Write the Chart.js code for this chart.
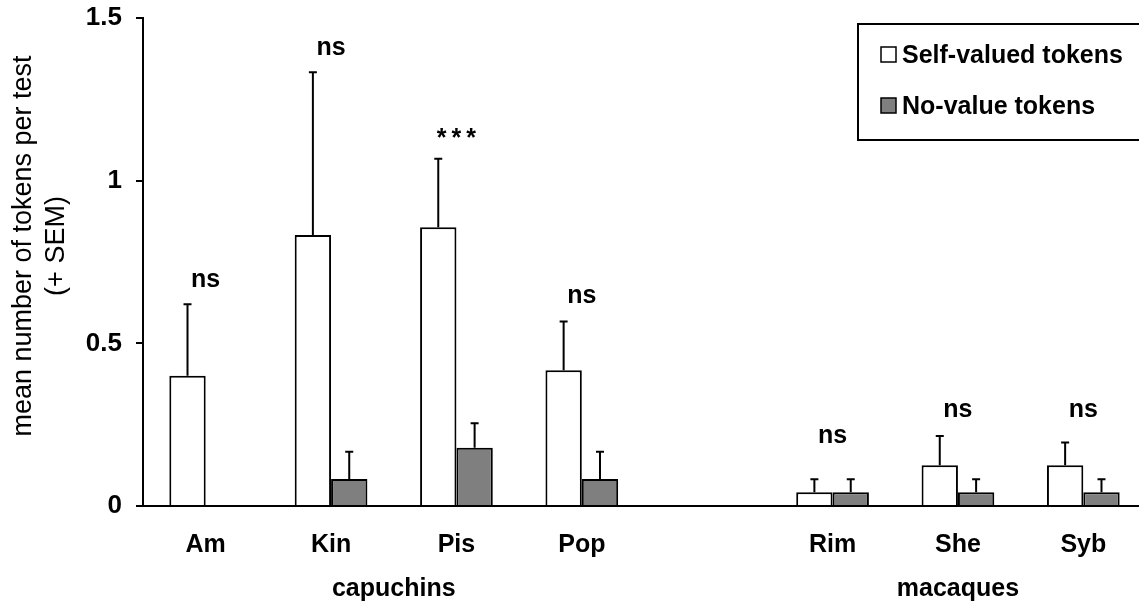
<!DOCTYPE html>
<html><head><meta charset="utf-8">
<script src="https://cdn.jsdelivr.net/npm/chart.js@4.4.0/dist/chart.umd.min.js"></script>
<style>html,body{margin:0;padding:0;background:#fff;overflow:hidden;width:1139px;height:603px;}#wrap{position:absolute;left:0;top:0;width:1170px;height:603px;}</style>
</head><body><div id="wrap"><canvas id="c" width="1170" height="603"></canvas></div>
<script>
const categories = ['Am','Kin','Pis','Pop','','Rim','She','Syb'];
const selfValued = [0.40,0.833,0.857,0.417,null,0.042,0.125,0.125];
const selfSEM = [0.22,0.50,0.21,0.15,null,0.04,0.09,0.07];
const noValue = [0,0.083,0.179,0.083,null,0.042,0.042,0.042];
const noValueSEM = [0,0.084,0.075,0.084,null,0.04,0.04,0.04];
const sigLabels = ['ns','ns','***','ns','','ns','ns','ns'];
const sigLevels = [0.673,1.386,1.107,0.624,null,0.194,0.274,0.274];
const yTickLabels = ['0','0.5','1','1.5'];
const groupLabels = ['capuchins','macaques'];
const groupFrom = [1,6];
const groupTo = [2,6];
const yTitle = ['mean number of tokens per test','(+ SEM)'];
const seriesNames = ['Self-valued tokens','No-value tokens'];

const FONT = "'Liberation Sans', Arial, sans-serif";
const GRAY = '#7f7f7f';

const errorBars = {
  id:'errorBars',
  afterDatasetsDraw(chart){
    const ctx = chart.ctx, y = chart.scales.y;
    [selfSEM, noValueSEM].forEach((errs, di) => {
      const meta = chart.getDatasetMeta(di);
      const vals = chart.data.datasets[di].data;
      meta.data.forEach((el, j) => {
        if (vals[j] == null || !errs[j]) return;
        const y0 = y.getPixelForValue(vals[j]);
        const y1 = y.getPixelForValue(vals[j] + errs[j]);
        ctx.save();
        ctx.strokeStyle = '#000'; ctx.lineWidth = 2;
        ctx.beginPath();
        ctx.moveTo(el.x, y0); ctx.lineTo(el.x, y1);
        ctx.moveTo(el.x - 4, y1); ctx.lineTo(el.x + 4, y1);
        ctx.stroke();
        ctx.restore();
      });
    });
  }
};

const decorations = {
  id:'decorations',
  afterDraw(chart){
    const ctx = chart.ctx, x = chart.scales.x, y = chart.scales.y;
    ctx.save();
    ctx.fillStyle = '#000';
    ctx.font = 'bold 25px ' + FONT;
    ctx.textBaseline = 'alphabetic';
    sigLabels.forEach((t, i) => {
      if (!t || sigLevels[i] == null) return;
      const cx = x.getPixelForValue(i);
      const cy = y.getPixelForValue(sigLevels[i]);
      if (t === '***') {
        try { ctx.letterSpacing = '5px'; } catch(e) {}
        const w = ctx.measureText(t).width;
        ctx.textAlign = 'left';
        ctx.fillText(t, cx - (w - 5) / 2, cy);
        try { ctx.letterSpacing = '0px'; } catch(e) {}
      } else {
        ctx.textAlign = 'center';
        ctx.fillText(t, cx, cy);
      }
    });
    ctx.textAlign = 'center';
    groupLabels.forEach((g, i) => {
      const cx = (x.getPixelForValue(groupFrom[i]) + x.getPixelForValue(groupTo[i])) / 2;
      ctx.fillText(g, cx, 596);
    });
    ctx.font = '27px ' + FONT;
    ctx.textBaseline = 'middle';
    const titleX = [24, 57];
    yTitle.forEach((t, i) => {
      ctx.save();
      ctx.translate(titleX[i], 246);
      ctx.rotate(-Math.PI / 2);
      ctx.fillText(t, 0, 0);
      ctx.restore();
    });
    ctx.strokeStyle = '#000';
    ctx.lineWidth = 2;
    ctx.strokeRect(858, 24, 400, 116);
    const fills = ['#ffffff', GRAY];
    const rowY = [55, 106];
    ctx.font = 'bold 25px ' + FONT;
    ctx.textAlign = 'left';
    ctx.textBaseline = 'middle';
    seriesNames.forEach((s, i) => {
      ctx.fillStyle = fills[i];
      ctx.fillRect(881, rowY[i] - 8, 15, 15);
      ctx.lineWidth = 1.5;
      ctx.strokeRect(881, rowY[i] - 8, 15, 15);
      ctx.fillStyle = '#000';
      ctx.fillText(s, 902, rowY[i] + 1);
    });
    ctx.restore();
  }
};

new Chart(document.getElementById('c'), {
  type:'bar',
  data:{
    labels: categories,
    datasets:[
      {label:seriesNames[0], data:selfValued, backgroundColor:'#ffffff', borderColor:'#000', borderWidth:2, borderSkipped:'start'},
      {label:seriesNames[1], data:noValue, backgroundColor:GRAY, borderColor:'#000', borderWidth:2, borderSkipped:'start'}
    ]
  },
  options:{
    responsive:false,
    animation:false,
    devicePixelRatio:1,
    datasets:{bar:{categoryPercentage:0.58, barPercentage:1.0}},
    layout:{padding:{top:18, right:24, left:0, bottom:0}},
    plugins:{legend:{display:false}, tooltip:{enabled:false}},
    scales:{
      x:{
        offset:true,
        grid:{display:false, drawTicks:false},
        border:{display:true, color:'#000', width:2},
        ticks:{color:'#000', font:{family:FONT, size:25, weight:'bold'}, padding:24, maxRotation:0, autoSkip:false},
        afterFit(s){ s.height = 97; s.paddingLeft = 0; s.paddingRight = 0; }
      },
      y:{
        min:0, max:1.5,
        grid:{display:true, drawOnChartArea:false, drawTicks:true, tickLength:7, color:'#000', lineWidth:2},
        border:{display:true, color:'#000', width:2},
        ticks:{stepSize:0.5, color:'#000', padding:14, font:{family:FONT, size:26, weight:'bold'},
          callback:(v, i) => yTickLabels[i]},
        afterFit(s){ s.width = 143; s.paddingTop = 0; s.paddingBottom = 0; }
      }
    }
  },
  plugins:[errorBars, decorations]
});
</script></body></html>
